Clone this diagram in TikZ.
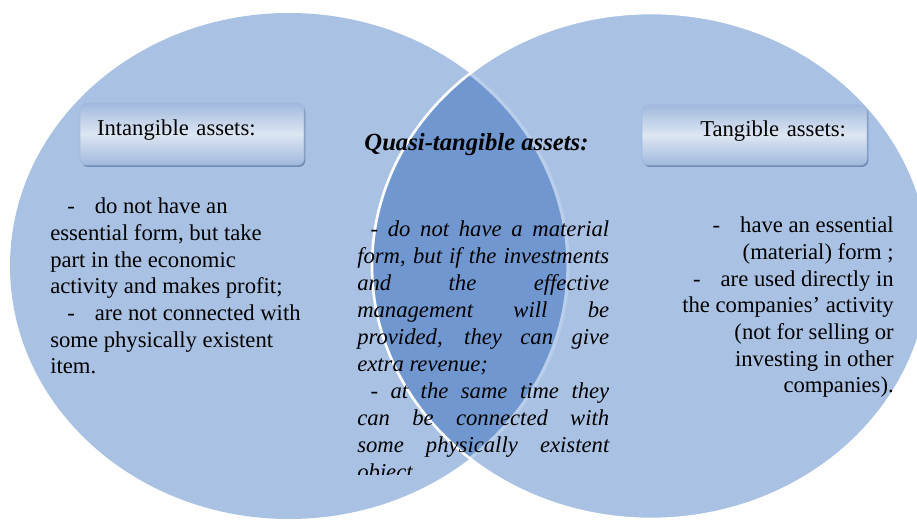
\documentclass[tikz,border=0pt]{standalone}
\usepackage{fontspec}
\setmainfont{Liberation Serif}
\usetikzlibrary{shadows}

\definecolor{setblue}{HTML}{A9C1E3}
\definecolor{setdark}{HTML}{7097CF}
\definecolor{setrim}{HTML}{B9CEEA}
\definecolor{boxlight}{HTML}{DDE6F2}
\definecolor{boxedge}{HTML}{A1B9DD}

\begin{document}
\begin{tikzpicture}[x=0.75pt, y=-0.75pt,
    assetbox/.style ={rectangle, rounded corners=5pt, draw=boxedge, line width=0.6pt,
      top color=boxedge, bottom color=boxedge, middle color=boxlight,
      drop shadow={shadow xshift=1pt, shadow yshift=-1.5pt, fill=setdark!70!black, opacity=0.6},
      font=\fontsize{17}{20}\selectfont, text height=11pt, text depth=8pt},
    bodytext/.style ={font=\fontsize{17}{20}\selectfont, inner sep=0pt}]
   \useasboundingbox (0,0) rectangle (917,520);

   % the two sets and their overlap
   \begin{scope}
     \clip (0,0) rectangle (917,520);
     \fill[setblue] (289,266) ellipse (279 and 253);
     \fill[setblue] (651,266) ellipse (279 and 253);
     \begin{scope}
       \clip (289,266) ellipse (279 and 253);
       \fill[setdark] (651,266) ellipse (279 and 253);
     \end{scope}
     \begin{scope}
       \clip (651,266) ellipse (279 and 253);
       \draw[setrim, line width=2.5pt] (289,266) ellipse (279 and 253);
     \end{scope}
     \draw[white, line width=2pt] (651,266) ellipse (279 and 253);
   \end{scope}

   % headings
   \node[assetbox, align=left, text width=142.5pt, inner xsep=12.75pt, minimum height=46.5pt] (intang) at (192,134) {Intangible assets:};
   \node[assetbox, align=right, text width=137.25pt, inner xsep=15.75pt, minimum height=45pt] (tang) at (754.5,135) {Tangible assets:};
   \node[font=\fontsize{18.5}{22}\selectfont\bfseries\itshape, anchor=base, inner sep=0pt] (quasi) at (476.5,151) {Quasi-tangible assets:};

   % lists
   \node[bodytext, align=left, anchor=north west] (intangtext) at (50,198)
     {\hspace*{12.75pt}-\hspace{15pt}do not have an\\
      essential form, but take\\
      part in the economic\\
      activity and makes profit;\\
      \hspace*{12.75pt}-\hspace{15pt}are not connected with\\
      some physically existent\\
      item.};
   \node[bodytext, align=right, anchor=north east] (tangtext) at (894,217)
     {-\hspace{15pt}have an essential\\
      (material) form ;\\
      -\hspace{15pt}are used directly in\\
      the companies’ activity\\
      (not for selling or\\
      investing in other\\
      companies).};
   \begin{scope}
     \clip (0,0) rectangle (917,474);
     \node[bodytext, font=\fontsize{17}{20.2}\selectfont\itshape, text width=189pt, align=justify, anchor=north west] (quasitext) at (357,221)
       {\parindent=0pt
        \hspace*{10pt}- do not have a material\linebreak
        form, but if the investments\linebreak
        and the effective\linebreak
        management will be\linebreak
        provided, they can give\linebreak
        extra revenue;\par
        \hspace*{10pt}- at the same time they\linebreak
        can be connected with\linebreak
        some physically existent\linebreak
        object.};
   \end{scope}
\end{tikzpicture}
\end{document}
